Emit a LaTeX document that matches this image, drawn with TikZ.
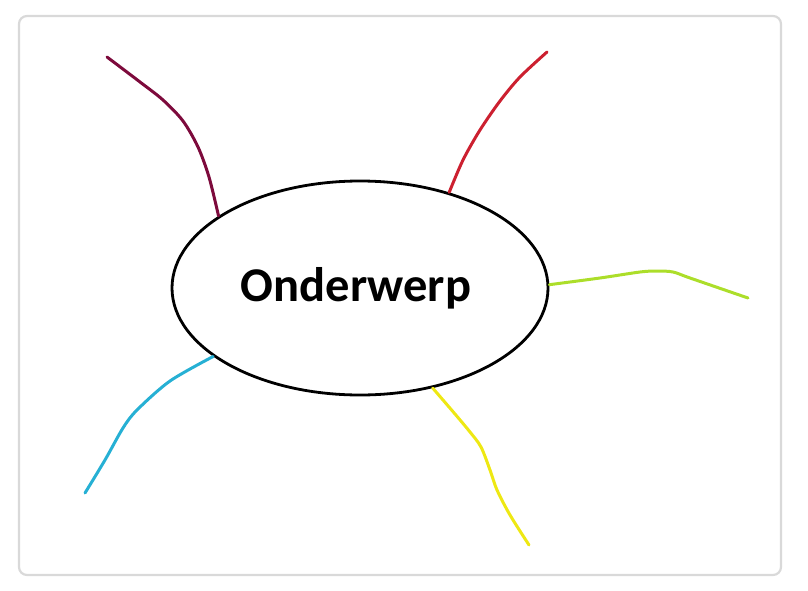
\documentclass[tikz,border=0pt]{standalone}
\usepackage{fontspec}
\newfontfamily\carlito{Carlito}
\usepackage[x11names, svgnames, rgb]{xcolor}
\usepackage{tikz}
\usetikzlibrary{shapes.geometric}
\definecolor{maroonline}{HTML}{7D0A3C}
\definecolor{redline}{HTML}{CC2030}
\definecolor{limeline}{HTML}{ACDE2A}
\definecolor{yellowline}{HTML}{EEE813}
\definecolor{cyanline}{HTML}{26B0D4}
\definecolor{framegray}{HTML}{D9D9D9}

\begin{document}
\begin{tikzpicture}[x=1pt,y=-1pt,line join=round,line cap=round,
  branch/.style={line width=3pt}]
\useasboundingbox (0,0) rectangle (808,591);
\draw [framegray, line width=2.2pt, rounded corners=8pt] (19,16) rectangle (781,575);
%%
\node (topic) at (360,288) [draw, ellipse, line width=2.8pt, inner sep=0pt,
  minimum width=376pt, minimum height=214pt]
  {\hspace*{-8pt}\raisebox{5pt}{\carlito\bfseries\fontsize{48.5}{56}\selectfont Onderwerp}};
  \coordinate (endA) at (107,57);
  \coordinate (endB) at (547,52);
  \coordinate (endC) at (748,298);
  \coordinate (endD) at (529,545);
  \coordinate (endE) at (85,493);
%
\draw [branch, color=maroonline] plot [smooth, tension=0.5] coordinates
  {(topic.153) (209,177) (198,147) (183,121) (163,100) (140,82) (endA)};
\draw [branch, color=redline] plot [smooth, tension=0.5] coordinates
  {(topic.47.5) (463,160) (480,130) (500,101) (520,77) (endB)};
\draw [branch, color=limeline] plot [smooth, tension=0.5] coordinates
  {(topic.1) (600,278) (640,272) (657,271) (673,272) (690,278) (endC)};
\draw [branch, color=yellowline] plot [smooth, tension=0.5] coordinates
  {(topic.-54.4) (455,414) (470,432) (481,447) (490,470) (497,490) (510,515) (endD)};
\draw [branch, color=cyanline] plot [smooth, tension=0.5] coordinates
  {(topic.205) (170,381) (137,410) (123,428) (105,460) (endE)};
%
\end{tikzpicture}
\end{document}
